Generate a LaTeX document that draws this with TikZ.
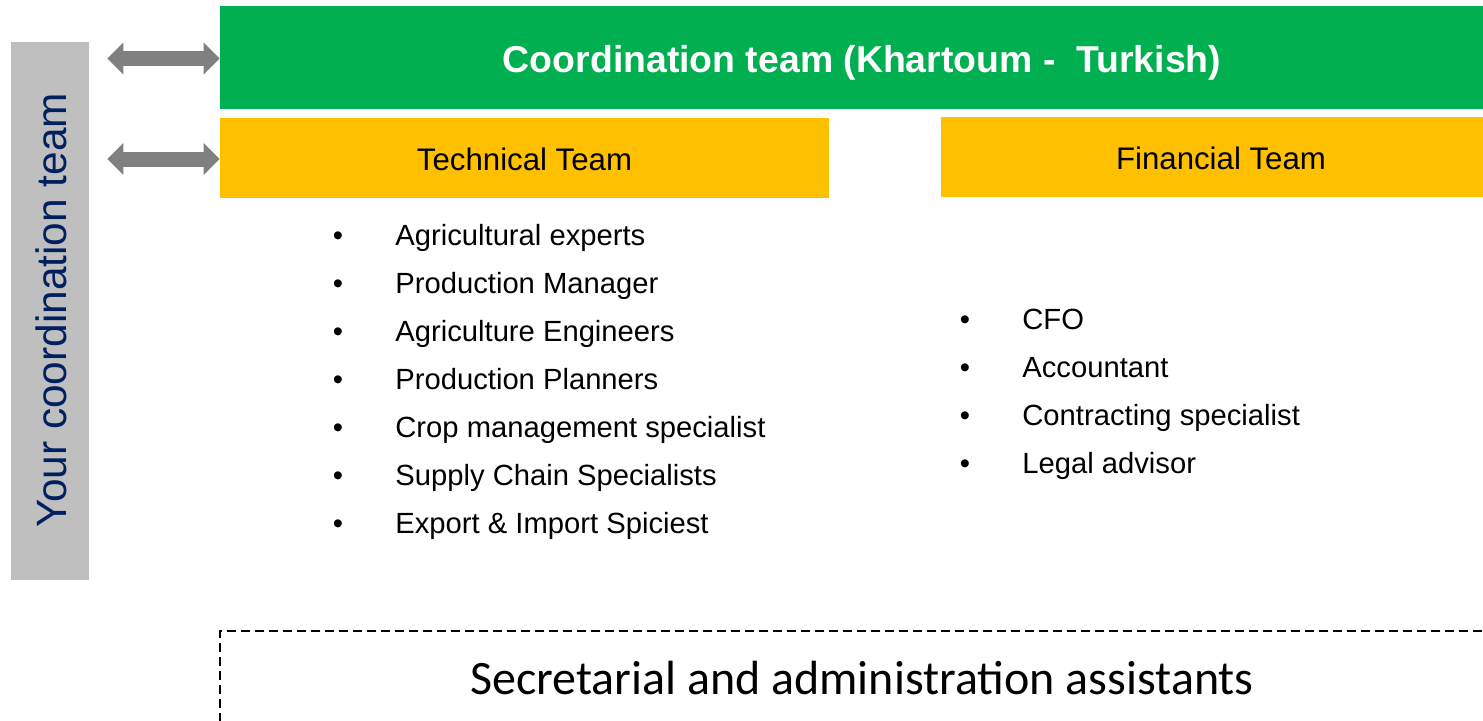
\documentclass[tikz,border=0pt]{standalone}
\usepackage{fontspec}
\setmainfont{Liberation Sans}
\newfontfamily\calibrifont{Carlito}
\usepackage{tikz}
\usetikzlibrary{arrows.meta}

\definecolor{teamgreen}{HTML}{00B050}
\definecolor{teamamber}{HTML}{FFC000}
\definecolor{sidegray}{HTML}{BFBFBF}
\definecolor{linkgray}{HTML}{808080}
\definecolor{navy}{HTML}{002060}

\tikzset{
  headbox/.style={inner sep=0pt, text height=12.2pt, text depth=0pt, font=\fontsize{15.6}{18}\selectfont},
  sidebar/.style={fill=sidegray, inner sep=0pt, minimum width=39pt, minimum height=269pt},
  twoway/.style={draw=linkgray, line width=7.5pt, shorten <=9pt,
    {Triangle[length=8pt,width=15.5pt]}-{Triangle[length=8pt,width=15.5pt]}},
  dot/.style={anchor=base, inner sep=0pt, font=\fontsize{14.6}{17}\selectfont},
  item/.style={anchor=base west, inner sep=0pt, font=\fontsize{14.6}{17}\selectfont}
}

\begin{document}
\begin{tikzpicture}[x=0.5pt,y=-0.5pt]
            \clip (0,0) rectangle (1483,720);
            % side bar
            \node[sidebar] (side) at (50,311) {};
            \node[rotate=90, text=navy, font=\fontsize{21.2}{24}\selectfont] (sidelabel) at (51,310) {Your coordination team};
            % team boxes
            \node[headbox, fill=teamgreen, text=white, minimum width=642pt, minimum height=51.5pt, text height=14.9pt,
              font=\fontsize{18.7}{22}\selectfont\bfseries] (coord) at (862,57.5) {Coordination team (Khartoum -~ Turkish)};
            \node[headbox, fill=teamamber, minimum width=304.5pt, minimum height=40pt] (tech) at (524.5,158) {Technical Team};
            \node[headbox, fill=teamamber, minimum width=280pt, minimum height=40pt] (fin) at (1221,157) {Financial Team};
            % links
            \draw[twoway] ([yshift=-0.5pt]coord.west -| side.east) -- ([yshift=-0.5pt]coord.west);
            \draw[twoway] ([yshift=-0.5pt]tech.west -| side.east) -- ([yshift=-0.5pt]tech.west);
            % lists
            \foreach \name [count=\i from 0] in {Agricultural experts, Production Manager, Agriculture Engineers,
              Production Planners, Crop management specialist, Supply Chain Specialists, Export \& Import Spiciest}{
              \node[dot] (tdot\i) at (338,{245+48*\i}) {\textbullet};
              \node[item] (titem\i) at (395,{245+48*\i}) {\name};
            }
            \foreach \name [count=\i from 0] in {CFO, Accountant, Contracting specialist, Legal advisor}{
              \node[dot] (fdot\i) at (965,{329+48*\i}) {\textbullet};
              \node[item] (fitem\i) at (1022,{329+48*\i}) {\name};
            }
            % admin
            \node[draw, dashed, line width=1pt, dash pattern=on 4.5pt off 2.5pt, inner sep=0pt,
              minimum width=642pt, minimum height=47pt, font=\calibrifont\fontsize{24}{28}\selectfont] (admin) at (862,678)
              {Secretarial and administration assistants};
        \end{tikzpicture}
\end{document}
